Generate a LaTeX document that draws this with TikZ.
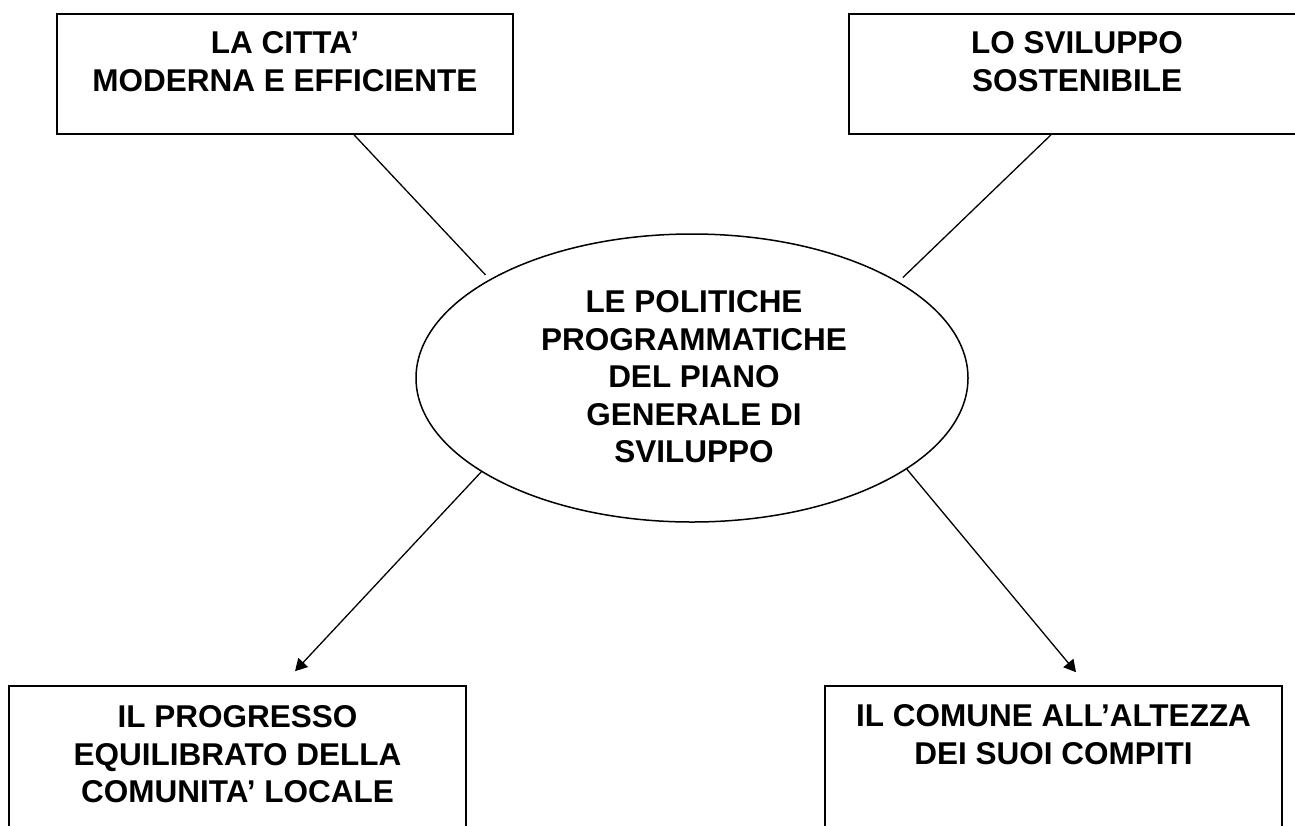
\documentclass[tikz,border=0pt]{standalone}
\usepackage{fontspec}
\setmainfont{Liberation Sans}
\usetikzlibrary{arrows.meta,shapes.geometric}
\begin{document}
\begin{tikzpicture}[x=1pt,y=-1pt,
  boxshape/.style={draw, line width=1.6pt, rectangle, inner sep=0pt},
  ellshape/.style={draw, ellipse, line width=1.5pt, inner sep=0pt},
  lbl/.style={font=\bfseries\fontsize{31.5}{37.5}\selectfont, align=center, inner sep=0pt, anchor=north},
  conn/.style={line width=1.3pt},
  arr/.style={conn, -{Triangle[length=12pt,width=13pt]}}]
\useasboundingbox (0,0) rectangle (1295,825);
% boxes
\node[boxshape, minimum width=456pt, minimum height=120pt] (tl) at (285,74) {};
\node[boxshape, minimum width=456pt, minimum height=120pt] (tr) at (1077,74) {};
\node[boxshape, minimum width=457pt, minimum height=164pt] (bl) at (237.5,768) {};
\node[boxshape, minimum width=457pt, minimum height=164pt] (br) at (1053.5,768) {};
\node[ellshape, minimum width=552pt, minimum height=288pt] (el) at (692,378) {};
% texts
\node[lbl] (tltxt) at (285,31.5) {LA CITTA’\\MODERNA E EFFICIENTE};
\node[lbl] (trtxt) at (1077,31.5) {LO SVILUPPO\\SOSTENIBILE};
\node[lbl] (bltxt) at (237.5,705.5) {IL PROGRESSO\\EQUILIBRATO DELLA\\COMUNITA’ LOCALE};
\node[lbl] (brtxt) at (1053.5,704.5) {IL COMUNE ALL’ALTEZZA\\DEI SUOI COMPITI};
\node[lbl] (eltxt) at (694,290.5) {LE POLITICHE\\PROGRAMMATICHE\\DEL PIANO\\GENERALE DI\\SVILUPPO};
% connectors
\draw[conn, shorten >=6pt] ([xshift=69pt]tl.south) -- (el.154.2);
\draw[conn, shorten >=6pt] ([xshift=-26pt]tr.south) -- (el.25.6);
\draw[arr] (el.204.7) -- ([xshift=57.5pt,yshift=14pt]bl.north);
\draw[arr] (el.337.4) -- ([xshift=22.5pt,yshift=13pt]br.north);
\end{tikzpicture}
\end{document}
